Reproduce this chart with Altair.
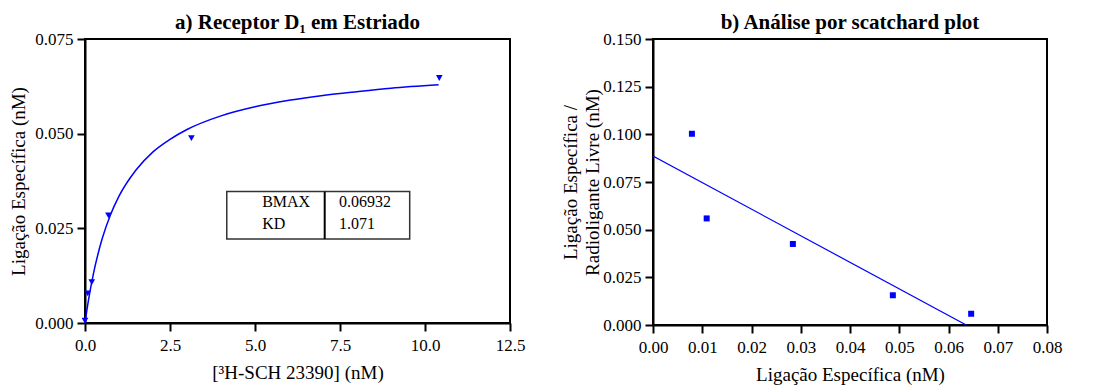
import altair as alt
import pandas as pd

FONT = "Liberation Serif"
BLUE = "#0000FF"

# ---- panel a: saturation data ----
conc_a = [0.0, 0.08, 0.2, 0.69, 3.13, 10.42]
bound_a = [0.0006, 0.0078, 0.0108, 0.0284, 0.0488, 0.0647]

# fitted curve
fit_x = [0.0, 0.1, 0.25, 0.5, 0.75, 1.0, 1.5, 2.0, 2.5, 3.0, 4.0, 5.0, 6.0, 7.0, 8.0, 9.0, 10.4]
fit_y = [0.0, 0.0059, 0.0131, 0.0221, 0.0286, 0.0335, 0.0404, 0.0452, 0.0485, 0.0511,
         0.0547, 0.0571, 0.0588, 0.0601, 0.0611, 0.0620, 0.0629]

# inset table
tab_labels = ["BMAX", "KD"]
tab_values = ["0.06932", "1.071"]

# ---- panel b: scatchard ----
bound_b = [0.0079, 0.0109, 0.0284, 0.0487, 0.0646]
ratio_b = [0.1003, 0.0559, 0.0425, 0.0156, 0.0059]
line_x = [0.0, 0.0636]
line_y = [0.0886, 0.0]

xa_ticks = [0.0, 2.5, 5.0, 7.5, 10.0, 12.5]
ya_ticks = [0.0, 0.025, 0.05, 0.075]
xb_ticks = [0.0, 0.01, 0.02, 0.03, 0.04, 0.05, 0.06, 0.07, 0.08]
yb_ticks = [0.0, 0.025, 0.05, 0.075, 0.1, 0.125, 0.15]

pts_a = pd.DataFrame({"x": conc_a, "y": bound_a})
fit_a = pd.DataFrame({"x": fit_x, "y": fit_y})
tab_box = pd.DataFrame({"x": [4.17], "x2": [9.55], "y": [0.0222], "y2": [0.0347], "xd": [7.05]})
tab_txt = pd.DataFrame({"lab": tab_labels, "val": tab_values, "y": [0.0320, 0.0261],
                        "xl": [5.21, 5.21], "xv": [7.47, 7.47]})

pts_b = pd.DataFrame({"x": bound_b, "y": ratio_b})
lin_b = pd.DataFrame({"x": line_x, "y": line_y})

xa = alt.X("x:Q", scale=alt.Scale(domain=[0, 12.5], nice=False),
           axis=alt.Axis(values=xa_ticks, format=".1f", title="[³H-SCH 23390] (nM)"))
ya = alt.Y("y:Q", scale=alt.Scale(domain=[0, 0.075], nice=False),
           axis=alt.Axis(values=ya_ticks, format=".3f", title="Ligação Específica (nM)", titlePadding=6))

curve = alt.Chart(fit_a).mark_line(color=BLUE, strokeWidth=1.5, interpolate="monotone").encode(x=xa, y=ya)
points = alt.Chart(pts_a).mark_point(shape="triangle-down", filled=True, color=BLUE, size=45, opacity=1).encode(x=xa, y=ya)
box = alt.Chart(tab_box).mark_rect(fill="white", stroke="#333333", strokeWidth=1.5).encode(
    x="x:Q", x2="x2:Q", y="y:Q", y2="y2:Q")
divider = alt.Chart(tab_box).mark_rule(color="black", strokeWidth=2).encode(x="xd:Q", y="y:Q", y2="y2:Q")
lab_txt = alt.Chart(tab_txt).mark_text(align="left", baseline="middle", font=FONT, fontSize=16, color="black").encode(
    x="xl:Q", y="y:Q", text="lab:N")
val_txt = alt.Chart(tab_txt).mark_text(align="left", baseline="middle", font=FONT, fontSize=16, color="black").encode(
    x="xv:Q", y="y:Q", text="val:N")

left = alt.layer(curve, box, divider, lab_txt, val_txt, points).properties(
    width=425, height=284,
    title=alt.TitleParams("a) Receptor D₁ em Estriado", font=FONT, fontSize=21, fontWeight="bold", offset=-3),
)

xb = alt.X("x:Q", scale=alt.Scale(domain=[0, 0.08], nice=False),
           axis=alt.Axis(values=xb_ticks, format=".2f", title="Ligação Específica (nM)"))
yb = alt.Y("y:Q", scale=alt.Scale(domain=[0, 0.15], nice=False),
           axis=alt.Axis(values=yb_ticks, format=".3f",
                         title=["Ligação Específica /", "Radioligante Livre (nM)"], titleLineHeight=22,
                         titlePadding=0))

line_b = alt.Chart(lin_b).mark_line(color=BLUE, strokeWidth=1.2, clip=True).encode(x=xb, y=yb)
sq_b = alt.Chart(pts_b).mark_point(shape="square", filled=True, color=BLUE, size=36, opacity=1).encode(x=xb, y=yb)

right = alt.layer(line_b, sq_b).properties(
    width=394, height=286,
    title=alt.TitleParams("b) Análise por scatchard plot", font=FONT, fontSize=21, fontWeight="bold", offset=-3),
)

chart = alt.hconcat(left, right, spacing=34).properties(
    padding={"left": 8, "top": 11, "right": 5, "bottom": 0}
).configure_view(
    stroke="black", strokeWidth=2
).configure_axis(
    grid=False,
    domainColor="black", domainWidth=2,
    tickColor="black", tickWidth=2, tickSize=8,
    labelFont=FONT, labelFontSize=17, labelColor="black", labelPadding=4,
    labelFlush=False, labelOverlap=False,
    titleFont=FONT, titleFontSize=19, titleFontWeight="normal", titleColor="black",
    titlePadding=9,
).configure_axisX(titlePadding=10, labelPadding=6).configure_title(color="black", anchor="middle")

chart.save("out.html", embed_options={"renderer": "svg", "actions": False})
